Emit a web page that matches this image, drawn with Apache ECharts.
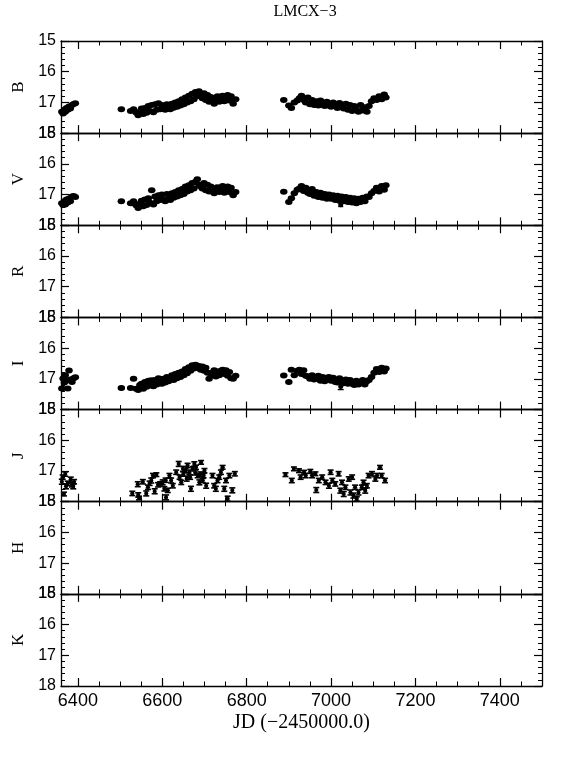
<!DOCTYPE html>
<html>
<head>
<meta charset="utf-8">
<script src="https://cdn.jsdelivr.net/npm/echarts@6/dist/echarts.min.js"></script>
<style>html,body{margin:0;padding:0;background:#fff;}#c{width:572px;height:762px;}</style>
</head>
<body>
<div id="c"></div>
<script>
// ---------- DATA ----------
const title = 'LMCX\u22123';
const xTitle = 'JD (\u22122450000.0)';
const bands = ['B', 'V', 'R', 'I', 'J', 'H', 'K'];
const xMajorTicks = [6400, 6600, 6800, 7000, 7200, 7400];
const xMinorTicks = [6400, 6450, 6500, 6550, 6600, 6650, 6700, 6750, 6800, 6850, 6900, 6950, 7000, 7050,
  7100, 7150, 7200, 7250, 7300, 7350, 7400, 7450];

// optical epochs (shared by B, V, I)
const jdOpt = [
  6362, 6365, 6368, 6370, 6373, 6376, 6379, 6382, 6386, 6390, 6394,
  6503,
  6525, 6532, 6538, 6543, 6547, 6551, 6555, 6559, 6563, 6567,
  6571, 6575, 6579, 6583, 6587, 6591, 6595, 6599, 6603, 6607,
  6611, 6615, 6619, 6623, 6627, 6631, 6635, 6639, 6643, 6647,
  6651, 6655, 6659, 6663, 6667, 6671, 6675, 6679, 6683, 6687,
  6691, 6695, 6699, 6703, 6707, 6711, 6715, 6719, 6723, 6727,
  6731, 6735, 6739, 6743, 6747, 6751, 6755, 6759, 6763, 6768,
  6774,
  6888, 6900, 6906, 6913, 6920, 6925, 6930, 6935, 6940, 6945,
  6950, 6955, 6960, 6965, 6970, 6975, 6980, 6985, 6990, 6995,
  7000, 7005, 7010, 7015, 7020, 7025, 7030, 7035, 7040, 7045,
  7050, 7055, 7060, 7065, 7070, 7075, 7080, 7085, 7090, 7096,
  7102, 7108, 7114, 7120, 7126, 7130
];
const magB = [
  17.30, 17.36, 17.24, 17.30, 17.18, 17.24, 17.13, 17.20, 17.08, 17.05, 17.03,
  17.22,
  17.28, 17.22, 17.33, 17.42, 17.30, 17.20, 17.38, 17.18, 17.34, 17.12,
  17.28, 17.08, 17.32, 17.06, 17.24, 17.03, 17.22, 17.08, 17.20, 17.24,
  17.06, 17.18, 17.22, 17.04, 17.17, 17.00, 17.14, 16.96, 17.10, 16.90,
  17.06, 16.84, 17.00, 16.78, 16.96, 16.72, 16.90, 16.66, 16.78, 16.64,
  16.80, 16.86, 16.70, 16.92, 16.76, 16.98, 16.82, 16.94, 17.04, 16.84,
  16.80, 16.98, 16.82, 16.78, 16.96, 16.82, 16.76, 16.94, 16.80, 17.04,
  16.90,
  16.92, 17.10, 17.18, 17.00, 16.94, 16.86, 16.78, 16.92, 17.00, 16.84,
  17.06, 16.92, 17.08, 16.96, 17.10, 16.94, 17.08, 17.12, 16.98, 17.10,
  17.14, 17.00, 17.12, 17.18, 17.02, 17.14, 17.20, 17.04, 17.24, 17.08,
  17.28, 17.12, 17.24, 17.30, 17.08, 17.26, 17.16, 17.30, 17.12, 16.96,
  16.86, 16.92, 16.80, 16.90, 16.74, 16.84
];
const magV = [
  17.28, 17.34, 17.22, 17.32, 17.16, 17.26, 17.13, 17.22, 17.06, 17.05, 17.08,
  17.22,
  17.28, 17.22, 17.35, 17.44, 17.30, 17.20, 17.38, 17.16, 17.34, 17.12,
  17.27, 16.86, 17.32, 17.06, 17.22, 17.02, 17.18, 17.00, 17.16, 17.22,
  16.98, 17.14, 17.18, 16.96, 17.10, 16.92, 17.06, 16.86, 17.02, 16.82,
  16.98, 16.74, 16.90, 16.70, 16.86, 16.62, 16.80, 16.58, 16.50, 16.68,
  16.74, 16.80, 16.62, 16.86, 16.68, 16.90, 16.74, 16.86, 16.96, 16.78,
  16.76, 16.92, 16.78, 16.72, 16.94, 16.82, 16.74, 16.92, 16.78, 17.02,
  16.92,
  16.91, 17.24, 17.12, 16.96, 16.84, 16.80, 16.72, 16.88, 16.78, 16.94,
  16.98, 16.82, 17.04, 16.92, 17.08, 16.94, 17.10, 16.98, 17.14, 17.00,
  17.14, 17.02, 17.18, 17.04, 17.20, 17.06, 17.22, 17.08, 17.24, 17.10,
  17.26, 17.12, 17.28, 17.14, 17.24, 17.10, 17.22, 17.06, 17.08, 16.96,
  16.88, 16.78, 16.90, 16.72, 16.84, 16.70
];
const magI = [
  17.31, 16.99, 17.12, 16.88, 17.05, 17.31, 16.73, 17.02, 17.10, 16.98, 16.95,
  17.30,
  17.30, 17.00, 17.32, 17.36, 17.20, 17.16, 17.32, 17.10, 17.26, 17.06,
  17.22, 17.05, 17.24, 17.04, 17.18, 16.98, 17.14, 17.16, 17.00, 17.12,
  16.94, 17.08, 16.96, 16.88, 17.04, 16.84, 16.98, 16.80, 16.94, 16.76,
  16.88, 16.68, 16.82, 16.62, 16.74, 16.56, 16.66, 16.54, 16.64, 16.58,
  16.70, 16.60, 16.74, 16.64, 16.80, 17.00, 16.82, 16.88, 16.72, 16.92,
  16.76, 16.88, 16.74, 16.70, 16.84, 16.72, 16.90, 16.78, 16.98, 17.00,
  16.90,
  16.89, 17.10, 16.70, 16.88, 16.74, 16.70, 16.84, 16.72, 16.90, 16.92,
  17.00, 16.88, 17.02, 16.94, 16.90, 17.06, 16.94, 17.08, 16.96, 16.94,
  17.06, 16.96, 17.10, 17.12, 16.98, 17.10, 17.14, 17.02, 17.16, 17.04,
  17.16, 17.20, 17.06, 17.18, 17.10, 17.04, 17.18, 17.08, 17.04, 16.94,
  16.80, 16.68, 16.78, 16.64, 16.76, 16.66
];
// points with visible error bars: [JD, mag, err]
const errV = [[7023, 17.33, 0.06]];
const errI = [[6503, 17.30, 0.035], [6575, 17.05, 0.07], [7023, 17.25, 0.10]];
// J band: [JD, mag, err]
const pointsJ = [
  [6362, 17.35, 0.08], [6364, 17.20, 0.07], [6367, 17.75, 0.06], [6370, 17.10, 0.07], [6372, 17.50, 0.08],
  [6376, 17.40, 0.07], [6383, 17.28, 0.08], [6386, 17.45, 0.07], [6389, 17.50, 0.08], [6391, 17.35, 0.07],
  [6529, 17.73, 0.07], [6542, 17.43, 0.08], [6543, 17.78, 0.07], [6545, 17.88, 0.06], [6554, 17.35, 0.07],
  [6562, 17.73, 0.08], [6566, 17.53, 0.07], [6570, 17.40, 0.07], [6574, 17.31, 0.08], [6578, 17.15, 0.07],
  [6582, 17.66, 0.08], [6586, 17.12, 0.06], [6590, 17.45, 0.07], [6595, 17.42, 0.07], [6601, 17.37, 0.08],
  [6605, 17.58, 0.07], [6608, 17.30, 0.07], [6609, 17.86, 0.08], [6613, 17.63, 0.07], [6617, 17.15, 0.07],
  [6621, 17.31, 0.08], [6625, 17.48, 0.07], [6633, 17.04, 0.07], [6639, 16.77, 0.08], [6641, 17.20, 0.07],
  [6645, 17.37, 0.07], [6649, 16.93, 0.08], [6650, 17.10, 0.07], [6655, 16.99, 0.07], [6658, 17.25, 0.08],
  [6660, 16.82, 0.07], [6664, 17.04, 0.07], [6666, 17.20, 0.07], [6668, 17.58, 0.08], [6672, 16.93, 0.07],
  [6676, 16.77, 0.07], [6678, 17.05, 0.08], [6680, 16.88, 0.07], [6684, 17.15, 0.07], [6688, 17.37, 0.08],
  [6690, 17.10, 0.07], [6692, 16.72, 0.06], [6696, 17.31, 0.07], [6698, 17.15, 0.07], [6700, 16.99, 0.07],
  [6704, 17.48, 0.08], [6719, 17.15, 0.07], [6723, 17.48, 0.07], [6727, 17.58, 0.08], [6731, 17.31, 0.07],
  [6735, 17.20, 0.07], [6739, 17.04, 0.07], [6743, 16.88, 0.06], [6747, 17.58, 0.08], [6751, 17.31, 0.07],
  [6755, 17.90, 0.08], [6759, 17.15, 0.07], [6766, 17.63, 0.08], [6772, 17.09, 0.07],
  [6892, 17.12, 0.06], [6907, 17.31, 0.07], [6912, 16.93, 0.06], [6924, 16.99, 0.06], [6928, 17.20, 0.07],
  [6936, 17.04, 0.06], [6940, 17.15, 0.07], [6951, 17.01, 0.06], [6955, 17.15, 0.07], [6963, 17.09, 0.06],
  [6965, 17.62, 0.08], [6971, 17.31, 0.07], [6979, 17.20, 0.07], [6987, 17.37, 0.07], [6995, 17.48, 0.08],
  [6999, 17.04, 0.07], [7003, 17.31, 0.07], [7010, 17.42, 0.07], [7018, 17.09, 0.07], [7022, 17.64, 0.08],
  [7026, 17.37, 0.07], [7030, 17.75, 0.08], [7034, 17.53, 0.07], [7042, 17.26, 0.07], [7046, 17.70, 0.08],
  [7050, 17.20, 0.07], [7053, 17.80, 0.08], [7057, 17.53, 0.07], [7061, 17.91, 0.07], [7065, 17.70, 0.08],
  [7073, 17.53, 0.07], [7077, 17.37, 0.07], [7081, 17.64, 0.08], [7085, 17.48, 0.07], [7089, 17.15, 0.07],
  [7097, 17.09, 0.07], [7105, 17.26, 0.07], [7109, 17.15, 0.07], [7116, 16.88, 0.06], [7120, 17.15, 0.07],
  [7128, 17.31, 0.07]
];

// ---------- CHART ----------
const chart = echarts.init(document.getElementById('c'), null, {renderer: 'canvas'});
const L = 61, R = 542, T = 41, B = 686;
const H = (B - T) / bands.length;
const black = '#000';
const grids = [], xAxes = [], yAxes = [];
bands.forEach((b, i) => {
  grids.push({left: L, width: R - L, top: T + i * H, height: H, outerBoundsMode: 'none', containLabel: false});
  const last = i === bands.length - 1;
  const xBase = {
    type: 'value', gridIndex: i, min: 6360, max: 7500,
    splitLine: {show: false}, axisLine: {show: true, lineStyle: {color: black, width: 1.3}}
  };
  xAxes.push(Object.assign({}, xBase, {
    position: 'bottom',
    axisTick: {show: true, inside: true, length: 8, customValues: xMajorTicks, lineStyle: {color: black, width: 1.2}},
    axisLabel: {show: last, customValues: xMajorTicks, color: black, fontFamily: 'Liberation Sans', fontSize: 18, margin: 6,
      formatter: v => String(v)},
    name: last ? xTitle : '', nameLocation: 'middle', nameGap: 27,
    nameTextStyle: {fontFamily: 'Liberation Serif', fontSize: 20, color: black}
  }));
  xAxes.push(Object.assign({}, xBase, {
    position: 'bottom', axisLine: {show: false},
    axisTick: {show: true, inside: true, length: 4.5, customValues: xMinorTicks, lineStyle: {color: black, width: 1}},
    axisLabel: {show: false}
  }));
  xAxes.push(Object.assign({}, xBase, {
    position: 'top',
    axisTick: {show: true, inside: true, length: 8, customValues: xMajorTicks, lineStyle: {color: black, width: 1.2}},
    axisLabel: {show: false}
  }));
  xAxes.push(Object.assign({}, xBase, {
    position: 'top', axisLine: {show: false},
    axisTick: {show: true, inside: true, length: 4.5, customValues: xMinorTicks, lineStyle: {color: black, width: 1}},
    axisLabel: {show: false}
  }));
  const yBase = {
    type: 'value', gridIndex: i, inverse: true, min: 15, max: 18, interval: 1,
    splitLine: {show: false}, minorSplitLine: {show: false},
    axisLine: {show: true, lineStyle: {color: black, width: 1.3}},
    axisTick: {show: true, inside: true, length: 8, lineStyle: {color: black, width: 1.2}},
    minorTick: {show: true, splitNumber: 5, length: 4, lineStyle: {color: black, width: 1}}
  };
  yAxes.push(Object.assign({}, yBase, {
    position: 'left',
    axisLabel: {show: true, color: black, fontFamily: 'Liberation Sans', fontSize: 16, margin: 5, showMinLabel: true, showMaxLabel: true},
    name: b, nameLocation: 'middle', nameGap: 33, nameRotate: 90,
    nameTextStyle: {fontFamily: 'Liberation Serif', fontSize: 17, color: black}
  }));
  yAxes.push(Object.assign({}, yBase, {position: 'right', axisLabel: {show: false}}));
});

function errRender(dotR, capW, lw) {
  return function (params, api) {
    const x = api.value(0), y = api.value(1), e = api.value(2);
    const c = api.coord([x, y]);
    const t = api.coord([x, y - e]);
    const b = api.coord([x, y + e]);
    const st = {stroke: black, lineWidth: lw};
    return {
      type: 'group', children: [
        {type: 'line', shape: {x1: c[0], y1: t[1], x2: c[0], y2: b[1]}, style: st},
        {type: 'line', shape: {x1: c[0] - capW, y1: t[1], x2: c[0] + capW, y2: t[1]}, style: st},
        {type: 'line', shape: {x1: c[0] - capW, y1: b[1], x2: c[0] + capW, y2: b[1]}, style: st},
        {type: 'circle', shape: {cx: c[0], cy: c[1], r: dotR}, style: {fill: black}}
      ]
    };
  };
}

function dots(panel, mags) {
  return {
    type: 'scatter', xAxisIndex: panel * 4, yAxisIndex: panel * 2,
    symbol: 'circle', symbolSize: [7.5, 6], itemStyle: {color: black, opacity: 1},
    data: jdOpt.map((d, k) => [d, mags[k]]), silent: true
  };
}
function bars(panel, pts, dotR, capW, lw) {
  return {
    type: 'custom', xAxisIndex: panel * 4, yAxisIndex: panel * 2,
    renderItem: errRender(dotR, capW, lw), encode: {x: 0, y: 1}, data: pts, silent: true
  };
}

const option = {
  animation: false,
  backgroundColor: '#fff',
  graphic: [{
    type: 'text', x: 305, y: 12,
    style: {text: title, fill: black, font: '16px "Liberation Serif"', align: 'center', verticalAlign: 'middle'}
  }],
  grid: grids, xAxis: xAxes, yAxis: yAxes,
  series: [
    dots(0, magB),
    dots(1, magV), bars(1, errV, 2.5, 2.5, 1.3),
    dots(3, magI), bars(3, errI, 2.5, 3, 1.3),
    bars(4, pointsJ, 2.1, 3, 1.6)
  ]
};
chart.setOption(option);
</script>
</body>
</html>
